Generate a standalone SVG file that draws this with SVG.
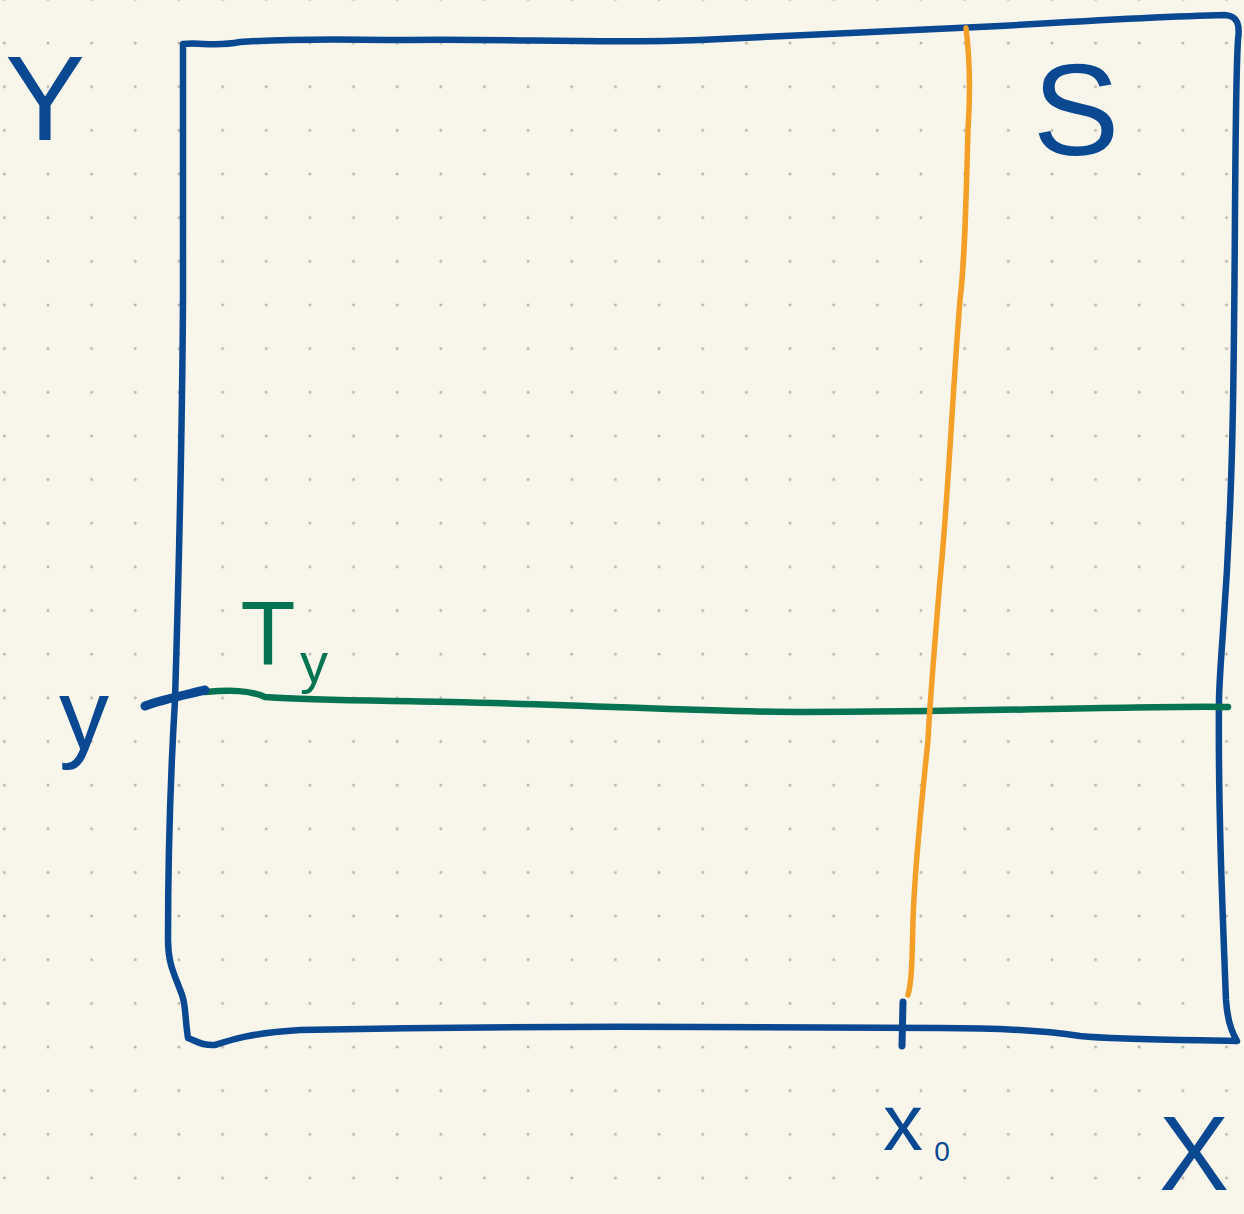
<svg xmlns="http://www.w3.org/2000/svg" width="1244" height="1214" viewBox="0 0 1244 1214">
  <defs>
    <pattern id="dots" patternUnits="userSpaceOnUse" x="-17.5" y="21.2" width="43.65" height="43.65">
      <circle cx="21.825" cy="21.825" r="1.5" fill="#b8b5ab"/>
    </pattern>
    <style>
      .ink { fill: none; stroke-linecap: round; stroke-linejoin: round; }
      .blue { stroke: #0a4892; }
      .green { stroke: #067352; }
      .orange { stroke: #f49f28; }
      .lbl { font-family: "Liberation Sans", Arial, sans-serif; text-anchor: middle; }
      .lblue { fill: #0a4892; }
      .lgreen { fill: #067352; }
    </style>
  </defs>
  <rect width="1244" height="1214" fill="#f8f6eb"/>
  <rect width="1244" height="1214" fill="url(#dots)"/>

  <g id="region-S">
    <path class="ink blue" stroke-width="6.5" d="M183,44 C200,42 215,47 240,42 C300,38 350,40 400,40 C500,38 600,44 700,40 C800,36 900,30 1000,26 C1100,20 1180,16 1225,15 C1238,16 1240,25 1238,40 C1234,100 1236,300 1232,450 C1228,600 1220,650 1219,700 C1218,800 1222,900 1226,1000 C1228,1030 1236,1038 1237,1041 C1200,1040 1120,1040 1080,1036 C1040,1030 1000,1028 940,1028 L700,1027 C500,1026 400,1028 300,1030 C250,1033 230,1040 215,1045 C200,1046 195,1040 188,1038 C185,1020 186,1005 182,995 C175,975 168,965 168,940 C168,850 172,750 175,700 C178,600 182,450 183,300 Z"/>
  </g>

  <g id="connectors">
    <path id="line-Ty" class="ink green" stroke-width="6.5" d="M205,692 C230,690 250,690 265,697 C300,700 350,700 450,702 C600,705 700,712 800,712 C900,712 1000,710 1050,709 C1150,707 1200,706 1228,707"/>
    <path id="line-x0" class="ink orange" stroke-width="5.5" d="M966,28 C970,60 970,100 968,130 C966,200 965,260 960,300 C952,400 948,500 940,580 C935,640 930,700 928,740 C922,800 915,860 913,920 C912,960 912,980 908,995"/>
    <path id="tick-y" class="ink blue" stroke-width="9" d="M145,706 C160,700 180,696 205,690"/>
    <path id="tick-x0" class="ink blue" stroke-width="7" d="M903,1002 L902,1046"/>
  </g>

  <g id="labels">
    <text id="label-Y" class="lbl lblue" x="45" y="140" font-size="120">Y</text>
    <text id="label-S" class="lbl lblue" x="1076" y="155" font-size="130">S</text>
    <g id="label-Ty">
      <text class="lbl lgreen" x="268" y="665" font-size="90">T</text>
      <text class="lbl lgreen" x="314" y="682" font-size="56">y</text>
    </g>
    <text id="label-y" class="lbl lblue" x="84" y="749" font-size="100">y</text>
    <g id="label-x0">
      <text class="lbl lblue" x="903" y="1150" font-size="80">x</text>
      <text class="lbl lblue" x="942" y="1161" font-size="28">0</text>
    </g>
    <text id="label-X" class="lbl lblue" x="1194" y="1190" font-size="105">X</text>
  </g>
</svg>
